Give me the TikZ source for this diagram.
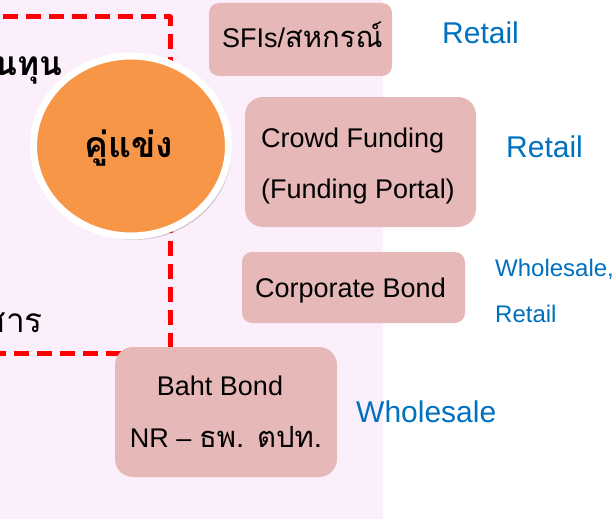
\documentclass[tikz,border=0pt]{standalone}
\usepackage{fontspec}
\setmainfont{Liberation Sans}
\newfontfamily\thai[Script=Thai,Scale=1.08]{Loma}
\usetikzlibrary{shapes.geometric,shadows}

\definecolor{bgpink}{RGB}{252,239,252}
\definecolor{boxpink}{RGB}{230,185,184}
\definecolor{orangefill}{RGB}{247,150,70}
\definecolor{labelblue}{RGB}{0,112,192}
\definecolor{framered}{RGB}{255,0,0}

\begin{document}
\begin{tikzpicture}[x=1pt,y=-1pt,
  panel/.style={fill=boxpink,draw=none,inner sep=0pt,rounded corners=#1},
  panel/.default=14pt,
  boxtext/.style={inner sep=0pt,font=\fontsize{27}{33}\selectfont},
  market/.style={inner sep=0pt,text=labelblue,font=\fontsize{30}{36}\selectfont},
  marketsmall/.style={inner sep=0pt,text=labelblue,font=\fontsize{24}{29}\selectfont},
  sidetext/.style={inner sep=0pt,font=\thai\fontsize{31}{36}\selectfont},
  frame/.style={draw=framered,line width=5pt,dash pattern=on 15pt off 8pt,line join=round}
]
% page and background panel
\fill[white] (0,0) rectangle (616,519);
\useasboundingbox (0,0) rectangle (616,519);
\clip (0,0) rectangle (616,519);
\fill[bgpink] (0,0) rectangle (383,519);

% side headings of the framed group
\node[sidetext,font=\thai\bfseries\fontsize{31}{36}\selectfont,anchor=base east] (fund) at (63,75) {เงินทุน};
\node[sidetext,anchor=base east] (info) at (43,332) {ข่าวสาร};

% dashed frame
\draw[frame] (-20,17) -- (170,17) -- (170,353) -- (-20,353);

% competitor disc
\node[ellipse,minimum width=195pt,minimum height=180pt,inner sep=0pt,
      fill=orangefill,draw=white,line width=7pt,
      drop shadow={shadow xshift=3pt,shadow yshift=-4pt,opacity=.35}] (rival) at (131,146) {};
\node[inner sep=0pt,font=\thai\bfseries\fontsize{33}{40}\selectfont,anchor=base] (rivaltext) at (129,157) {คู่แข่ง};

% product boxes
\node[panel=10pt,minimum width=183pt,minimum height=73pt] (sfi) at (300.5,39.5) {};
\node[panel=18pt,minimum width=231pt,minimum height=130pt] (crowd) at (360.5,162) {};
\node[panel=10pt,minimum width=223pt,minimum height=71pt] (corp) at (353.5,287.5) {};
\node[panel=18pt,minimum width=222pt,minimum height=130pt] (baht) at (226,412) {};

% box texts
\node[boxtext,anchor=base west] (sfitext) at (222,48) {SFIs/{\thai สหกรณ์}};
\node[boxtext,anchor=base west] (crowdA) at (261,147) {Crowd Funding};
\node[boxtext,anchor=base west] (crowdB) at (261,198) {(Funding Portal)};
\node[boxtext,anchor=base west] (corptext) at (255,297) {Corporate Bond};
\node[boxtext,anchor=base] (bahtA) at (220,395) {Baht Bond};
\node[boxtext,anchor=base] (bahtB) at (226,447) {NR – {\thai ธพ. ตปท.}};

% investor type labels
\node[market,anchor=base west] (m1) at (442,44) {Retail};
\node[market,anchor=base west] (m2) at (506,157) {Retail};
\node[marketsmall,anchor=base west] (m3) at (495,276) {Wholesale,};
\node[marketsmall,anchor=base west] (m4) at (495,322) {Retail};
\node[market,anchor=base west] (m5) at (356,422) {Wholesale};
\end{tikzpicture}
\end{document}
